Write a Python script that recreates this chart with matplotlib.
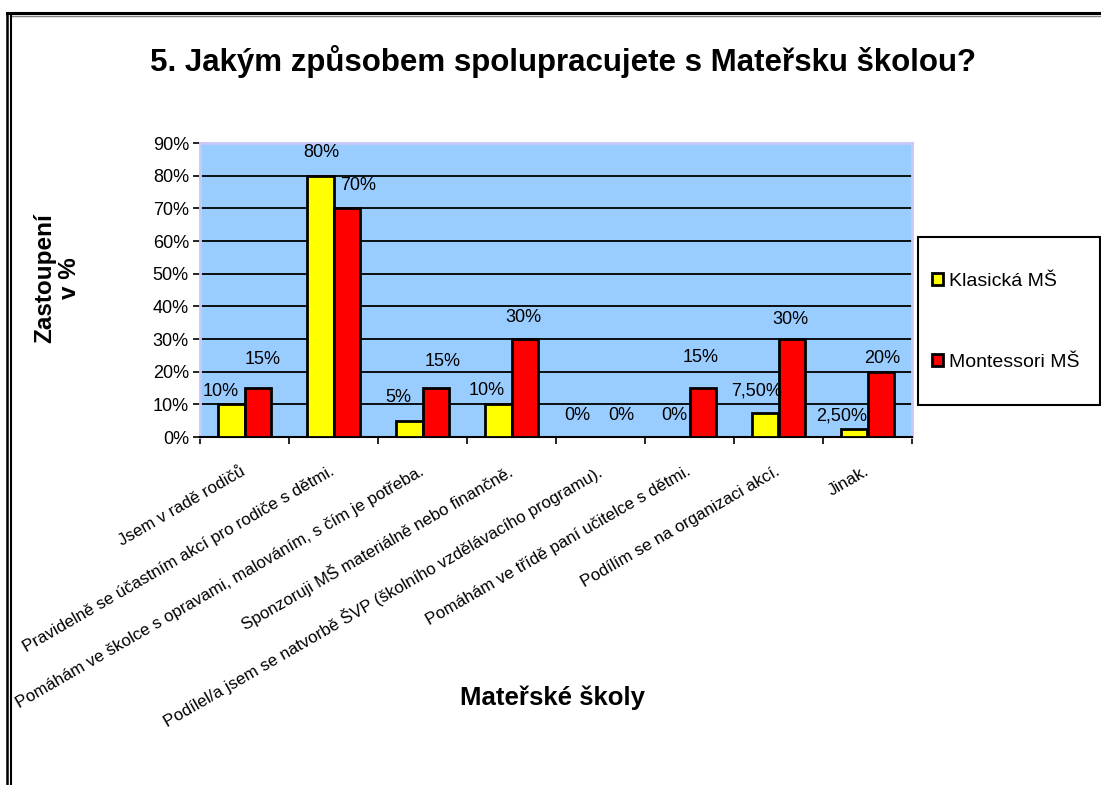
import numpy as np
import matplotlib
matplotlib.use('Agg')
import matplotlib.pyplot as plt
from matplotlib.patches import Rectangle
from matplotlib.lines import Line2D

plt.rcParams['font.family'] = ['Liberation Sans', 'DejaVu Sans']

# data
kategorie = [
    'Jsem v radě rodičů',
    'Pravidelně se účastním akcí pro rodiče s dětmi.',
    'Pomáhám ve školce s opravami, malováním, s čím je potřeba.',
    'Sponzoruji MŠ materiálně nebo finančně.',
    'Podílel/a jsem se natvorbě ŠVP (školního vzdělávacího programu).',
    'Pomáhám ve třídě paní učitelce s dětmi.',
    'Podílím se na organizaci akcí.',
    'Jinak.',
]
klasicka = [10, 80, 5, 10, 0, 0, 7.5, 2.5]
montessori = [15, 70, 15, 30, 0, 15, 30, 20]
y_ticks = [0, 10, 20, 30, 40, 50, 60, 70, 80, 90]

# posuny popisku v pixelech (Excel je rozhazel po svem)
posun_k = [(-10, 13), (1, 23), (-11, 23), (-11, 14), (-10, 22), (-2, 22), (-9, 22), (-13, 13)]
posun_m = [(5, 29), (11, 23), (7, 27), (-1, 22), (7, 22), (-2, 30), (-1, 20), (1, 13)]


def popisek(v):
    if v == int(v):
        return f'{int(v)}%'
    return f'{v:.2f}'.replace('.', ',') + '%'


W, H = 1101, 785
fig = plt.figure(figsize=(W / 100, H / 100), dpi=100)
ax = fig.add_axes([200 / W, 1 - 437 / H, 712 / W, 294 / H])
ax.set_facecolor('#99CCFF')

x = np.arange(len(kategorie))
w = 0.3
b1 = ax.bar(x - w / 2, klasicka, w, color='#FFFF00', edgecolor='black', linewidth=2, zorder=3, label='Klasická MŠ')
b2 = ax.bar(x + w / 2, montessori, w, color='#FF0000', edgecolor='black', linewidth=2, zorder=3, label='Montessori MŠ')

for xi, v, p in zip(x - w / 2, klasicka, posun_k):
    ax.annotate(popisek(v), (xi, v), xytext=p, textcoords='offset pixels',
                ha='center', va='center', fontsize=13, zorder=4)
for xi, v, p in zip(x + w / 2, montessori, posun_m):
    ax.annotate(popisek(v), (xi, v), xytext=p, textcoords='offset pixels',
                ha='center', va='center', fontsize=13, zorder=4)

ax.set_xlim(-0.5, len(kategorie) - 0.5)
ax.set_ylim(0, 90)
ax.set_yticks(y_ticks, [f'{t}%' for t in y_ticks], fontsize=13)
ax.yaxis.grid(True, color='black', linewidth=1.3)
ax.get_ygridlines()[-1].set_visible(False)
ax.set_axisbelow(True)

ax.set_xticks(np.arange(-0.5, len(kategorie), 1))
ax.set_xticklabels([])
ax.set_xticks(x, kategorie, minor=True)
for lbl in ax.get_xticklabels(minor=True):
    lbl.set_rotation(30)
    lbl.set_ha('right')
    lbl.set_va('center')
    lbl.set_rotation_mode('anchor')
    lbl.set_fontsize(12.2)
ax.tick_params(axis='x', which='minor', length=0, pad=24)
ax.tick_params(axis='x', which='major', length=5, width=1.2, direction='out')
ax.tick_params(axis='y', length=5, width=1.2, direction='out', pad=3)

for s in ['left', 'top', 'right']:
    ax.spines[s].set_color('#C8C8F8')
    ax.spines[s].set_linewidth(2)
ax.spines['bottom'].set_color('black')
ax.spines['bottom'].set_linewidth(1.5)

fig.text(563 / W, 1 - 62 / H, '5. Jakým způsobem spolupracujete s Mateřsku školou?',
         ha='center', va='center', fontsize=22.5, weight='bold')
fig.text(57 / W, 1 - 278 / H, 'Zastoupení\nv %', rotation=90, ha='center', va='center',
         fontsize=17.5, weight='bold', multialignment='center', linespacing=1.1)
fig.text(552 / W, 1 - 698 / H, 'Mateřské školy', ha='center', va='center',
         fontsize=18.5, weight='bold')

# legenda
fig.add_artist(Rectangle((918 / W, 1 - 405 / H), 182 / W, 168 / H, transform=fig.transFigure,
                         facecolor='white', edgecolor='black', linewidth=1.5))
leg = fig.legend(handles=[b1, b2], loc='center left', bbox_to_anchor=(922 / W, 1 - 322 / H),
                 frameon=False, fontsize=14, labelspacing=3.3, handlelength=0.6,
                 handleheight=0.6, handletextpad=0.3, borderpad=0)

# ramecek obrazku
fig.add_artist(Line2D([7 / W, 1], [1 - 13 / H] * 2, transform=fig.transFigure, color='black', lw=2.2))
fig.add_artist(Line2D([10 / W, 1], [1 - 15.5 / H] * 2, transform=fig.transFigure, color='#808080', lw=1))
fig.add_artist(Line2D([7 / W] * 2, [0, 1 - 13 / H], transform=fig.transFigure, color='black', lw=1.8))
fig.add_artist(Line2D([10.5 / W] * 2, [0, 1 - 15.5 / H], transform=fig.transFigure, color='black', lw=1.5))

fig.savefig('out.png', dpi=100)
